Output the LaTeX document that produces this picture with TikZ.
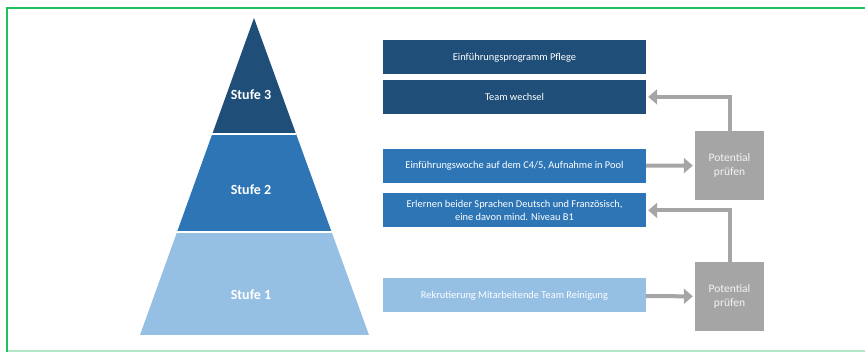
\documentclass[tikz,border=0pt]{standalone}
\usepackage{fontspec}
\setmainfont{Carlito}
\usetikzlibrary{arrows.meta,calc,positioning}

\definecolor{navy}{HTML}{1F4E79}
\definecolor{mittelblau}{HTML}{2E75B6}
\definecolor{hellblau}{HTML}{96BFE4}
\definecolor{grau}{HTML}{A5A5A5}
\definecolor{rahmengruen}{HTML}{22C05A}
\definecolor{rahmenhell}{HTML}{B2E6C8}

\begin{document}
\begin{tikzpicture} [
    x=1pt, y=-1pt,
    font=\fontsize{10.4}{12.5}\selectfont,
    stage/.style    = { rectangle, draw=none, text=white, text centered,
                        minimum width=263pt, minimum height=34pt, inner sep=0pt},
    check/.style    = { rectangle, fill=grau, text=white!88!grau, align=center,
                        minimum width=69pt, minimum height=69pt, inner sep=0pt,
                        font=\fontsize{11.5}{14}\selectfont},
    level/.style    = { draw=white, line width=1.5pt},
    stufe/.style    = { text=white, font=\fontsize{14}{16}\selectfont\bfseries},
    line/.style     = { draw=grau, line width=4pt, shorten >=2pt,
                        -{Triangle[length=9pt,width=15pt]}},
  ]

  \useasboundingbox (0,0) rectangle (865,352);

  % frame
  \draw[rahmenhell, line width=1.5pt] (7,351) -- (865,351);
  \draw[rahmengruen, line width=1.5pt] (7,352) -- (7,8) -- (865,8);

  % pyramid
  \coordinate (apex) at (254,18);
  \coordinate (bl) at (140,335);
  \coordinate (br) at (369,335);
  \coordinate (l3) at ($(apex)!0.366!(bl)$);
  \coordinate (r3) at ($(apex)!0.366!(br)$);
  \coordinate (l2) at ($(apex)!0.675!(bl)$);
  \coordinate (r2) at ($(apex)!0.675!(br)$);
  \fill[hellblau] (l2) -- (r2) -- (br) -- (bl) -- cycle;
  \fill[mittelblau] (l3) -- (r3) -- (r2) -- (l2) -- cycle;
  \fill[navy] (apex) -- (r3) -- (l3) -- cycle;
  \draw[level] (l3) -- (r3);
  \draw[level] (l2) -- (r2);

  \node[stufe] (s3) at (251,95) {Stufe 3};
  \node[stufe] (s2) at (251,190) {Stufe 2};
  \node[stufe] (s1) at (251,295) {Stufe 1};

  % steps
  \node[stage, fill=navy] (programm) at (514.5,57.5) {Einführungsprogramm Pflege};
  \node[stage, fill=navy, below=5pt of programm] (team) {Team wechsel};
  \node[stage, fill=mittelblau] (woche) at (514.5,166) {Einführungswoche auf dem C4/5, Aufnahme in Pool};
  \node[stage, fill=mittelblau, below=10pt of woche, align=center] (sprachen)
       {Erlernen beider Sprachen Deutsch und Französisch,\\eine davon mind. Niveau B1};
  \node[stage, fill=hellblau] (rekrut) at (514.5,295.5) {Rekrutierung Mitarbeitende Team Reinigung};

  \node[check] (pot2) at (729.5,165.5) {Potential\\prüfen};
  \node[check] (pot1) at (729.5,296.5) {Potential\\prüfen};

  % connect the nodes
  \path [line] (woche) -- (pot2);
  \path [line] (pot2.north) |- (team.east);
  \path [line] (rekrut) -- (pot1);
  \path [line] (pot1.north) |- (sprachen.east);
\end{tikzpicture}
\end{document}
